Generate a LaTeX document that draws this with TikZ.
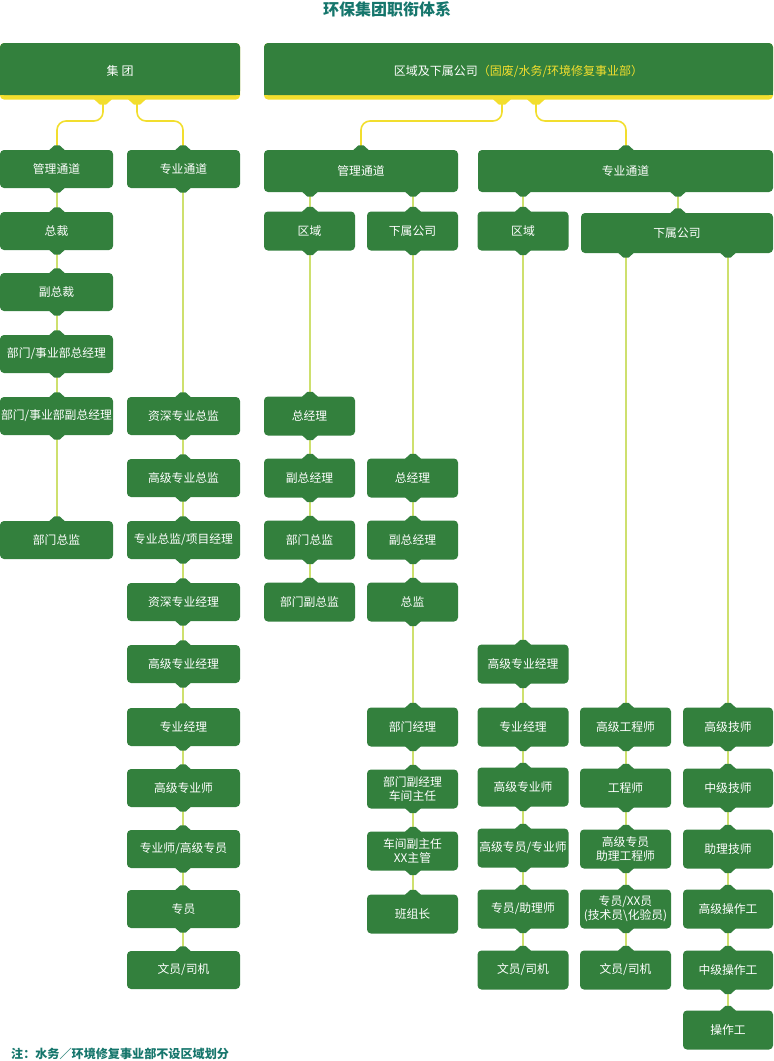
\documentclass[tikz,border=0pt]{standalone}
\usepackage{fontspec}
\setmainfont{Noto Sans CJK SC}
\definecolor{boxgreen}{RGB}{51,128,61}
\definecolor{linegreen}{RGB}{206,224,110}
\definecolor{topyellow}{RGB}{242,222,46}
\definecolor{titleteal}{RGB}{22,118,108}
\tikzset{
  box/.style={fill=boxgreen, rounded corners=4, text=white, align=center, inner sep=0pt,
    font=\fontsize{11.8}{14}\selectfont, minimum height=39},
  colA/.style={box, minimum width=113, minimum height=38},
  colS/.style={box, minimum width=91},
  link/.style={draw=linegreen, line width=1.2pt},
  toplink/.style={draw=topyellow, line width=1.6pt, rounded corners=9},
}
\newcommand\notchd[2]{\fill[#2] #1 ++(-8,-0.5) -- ++(5.5,5) -- ++(5,0) -- ++(5.5,-5) -- cycle;}
\newcommand\notchu[2]{\fill[#2] #1 ++(-8,0.5) -- ++(5.5,-5) -- ++(5,0) -- ++(5.5,5) -- cycle;}
\newcommand\vlink[3]{%
  \coordinate (tmpx) at (#3,0);
  \draw[link] (#1.south -| tmpx) -- (#2.north -| tmpx);
  \notchd{(#1.south -| tmpx)}{boxgreen}
  \notchu{(#2.north -| tmpx)}{boxgreen}
}
\newcommand\elink[4]{%
  \coordinate (tmpx) at (#3,0);
  \coordinate (tmpc) at (#4,0);
  \draw[toplink] (#1.south -| tmpx) -- (tmpx |- hy) -- (hy -| tmpc) -- (#2.north -| tmpc);
  \fill[topyellow] (#1.south -| tmpx) ++(-9,-0.5) -- ++(6,5.5) -- ++(6,0) -- ++(6,-5.5) -- cycle;
  \notchu{(#2.north -| tmpc)}{boxgreen}
}
\begin{document}
\begin{tikzpicture}[x=1pt,y=-1pt]
\useasboundingbox (0,0) rectangle (774,1061);
\coordinate (hy) at (0,121);

% title
\node[font=\fontsize{16}{18}\selectfont\bfseries, text=titleteal] (title) at (387,9) {环保集团职衔体系};

% header: group
\fill[topyellow, rounded corners=4] (0,43) rectangle (240,99.5);
\fill[boxgreen, rounded corners=4] (0,43) rectangle (240,95);
\fill[boxgreen] (0,80) rectangle (240,95);
\node[minimum width=240, minimum height=56.5, inner sep=0pt, text=white, font=\fontsize{12}{14}\selectfont] (jt) at (120,71.25) {集\hspace{3pt}团};

% header: regions
\fill[topyellow, rounded corners=4] (264,43) rectangle (773,99.5);
\fill[boxgreen, rounded corners=4] (264,43) rectangle (773,95);
\fill[boxgreen] (264,80) rectangle (773,95);
\node[minimum width=509, minimum height=56.5, inner sep=0pt, text=white, font=\fontsize{12}{14}\selectfont] (qy) at (518.5,71.25) {区域及下属公司\textcolor{topyellow}{（固废/水务/环境修复事业部）}};

% column A
\node[colA] (a0) at (56.5,169) {管理通道};
\node[colA] (a1) at (56.5,231) {总裁};
\node[colA] (a2) at (56.5,292) {副总裁};
\node[colA] (a3) at (56.5,354) {部门/事业部总经理};
\node[colA] (a4) at (56.5,416) {部门/事业部副总经理};
\node[colA] (a5) at (56.5,540) {部门总监};

% column B
\node[colA] (b0) at (183.5,169) {专业通道};
\node[colA] (b1) at (183.5,416) {资深专业总监};
\node[colA] (b2) at (183.5,478) {高级专业总监};
\node[colA] (b3) at (183.5,540) {专业总监/项目经理};
\node[colA] (b4) at (183.5,602) {资深专业经理};
\node[colA] (b5) at (183.5,664) {高级专业经理};
\node[colA] (b6) at (183.5,727) {专业经理};
\node[colA] (b7) at (183.5,788) {高级专业师};
\node[colA] (b8) at (183.5,849) {专业师/高级专员};
\node[colA] (b9) at (183.5,909) {专员};
\node[colA] (b10) at (183.5,970) {文员/司机};

% right channels
\node[box, minimum width=194, minimum height=42] (rm) at (361,171) {管理通道};
\node[box, minimum width=295, minimum height=42] (rp) at (625.5,171) {专业通道};

% column C
\node[colS] (c0) at (309.5,231) {区域};
\node[colS] (c1) at (309.5,416) {总经理};
\node[colS] (c2) at (309.5,478) {副总经理};
\node[colS] (c3) at (309.5,540) {部门总监};
\node[colS] (c4) at (309.5,602) {部门副总监};

% column D
\node[colS] (d0) at (412.5,231) {下属公司};
\node[colS] (d1) at (412.5,478) {总经理};
\node[colS] (d2) at (412.5,540) {副总经理};
\node[colS] (d3) at (412.5,602) {总监};
\node[colS] (d4) at (412.5,727) {部门经理};
\node[colS] (d5) at (412.5,789) {部门副经理\\车间主任};
\node[colS] (d6) at (412.5,851) {车间副主任\\XX主管};
\node[colS] (d7) at (412.5,914) {班组长};

% column E
\node[colS] (e0) at (523,231) {区域};
\node[colS] (e1) at (523,664) {高级专业经理};
\node[colS] (e2) at (523,727) {专业经理};
\node[colS] (e3) at (523,787) {高级专业师};
\node[colS] (e4) at (523,848) {高级专员/专业师};
\node[colS] (e5) at (523,909) {专员/助理师};
\node[colS] (e6) at (523,970) {文员/司机};

% subsidiary (F+G)
\node[box, minimum width=192, minimum height=40] (fg) at (677,233) {下属公司};

% column F
\node[colS] (f1) at (625.5,727) {高级工程师};
\node[colS] (f2) at (625.5,788) {工程师};
\node[colS] (f3) at (625.5,849) {高级专员\\助理工程师};
\node[colS] (f4) at (625.5,909) {专员/XX员\\(技术员\textbackslash 化验员)};
\node[colS] (f5) at (625.5,970) {文员/司机};

% column G
\node[colS, minimum width=90] (g1) at (728,727) {高级技师};
\node[colS, minimum width=90] (g2) at (728,788) {中级技师};
\node[colS, minimum width=90] (g3) at (728,849) {助理技师};
\node[colS, minimum width=90] (g4) at (728,909) {高级操作工};
\node[colS, minimum width=90] (g5) at (728,970) {中级操作工};
\node[colS, minimum width=90] (g6) at (728,1030) {操作工};

% top connectors
\elink{jt}{a0}{103}{57}
\elink{jt}{b0}{137}{183}
\elink{qy}{rm}{502}{361}
\elink{qy}{rp}{536}{626}

% column links
\vlink{a0}{a1}{57}
\vlink{a1}{a2}{57}
\vlink{a2}{a3}{57}
\vlink{a3}{a4}{57}
\vlink{a4}{a5}{57}

\vlink{b0}{b1}{183}
\vlink{b1}{b2}{183}
\vlink{b2}{b3}{183}
\vlink{b3}{b4}{183}
\vlink{b4}{b5}{183}
\vlink{b5}{b6}{183}
\vlink{b6}{b7}{183}
\vlink{b7}{b8}{183}
\vlink{b8}{b9}{183}
\vlink{b9}{b10}{183}

\vlink{rm}{c0}{310}
\vlink{rm}{d0}{413}
\vlink{c0}{c1}{310}
\vlink{c1}{c2}{310}
\vlink{c2}{c3}{310}
\vlink{c3}{c4}{310}

\vlink{d0}{d1}{413}
\vlink{d1}{d2}{413}
\vlink{d2}{d3}{413}
\vlink{d3}{d4}{413}
\vlink{d4}{d5}{413}
\vlink{d5}{d6}{413}
\vlink{d6}{d7}{413}

\vlink{rp}{e0}{523}
\vlink{rp}{fg}{678}
\vlink{e0}{e1}{523}
\vlink{e1}{e2}{523}
\vlink{e2}{e3}{523}
\vlink{e3}{e4}{523}
\vlink{e4}{e5}{523}
\vlink{e5}{e6}{523}

\vlink{fg}{f1}{626}
\vlink{f1}{f2}{626}
\vlink{f2}{f3}{626}
\vlink{f3}{f4}{626}
\vlink{f4}{f5}{626}

\vlink{fg}{g1}{728}
\vlink{g1}{g2}{728}
\vlink{g2}{g3}{728}
\vlink{g3}{g4}{728}
\vlink{g4}{g5}{728}
\vlink{g5}{g6}{728}

% note
\node[anchor=west, inner sep=0pt, text=titleteal, font=\fontsize{12.1}{14}\selectfont\bfseries] (note) at (11,1054) {注：水务／环境修复事业部不设区域划分};
\end{tikzpicture}
\end{document}
